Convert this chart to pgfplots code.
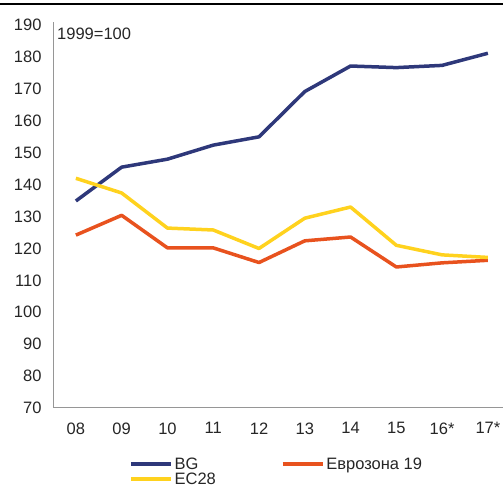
\documentclass[border=0pt]{standalone}
\usepackage{pgfplots}
\pgfplotsset{compat=1.18}
\usepackage{fontspec}
\setmainfont{Liberation Sans}
\definecolor{bgblue}{RGB}{46,56,122}
\definecolor{ezorange}{RGB}{232,82,30}
\definecolor{ecyellow}{RGB}{255,210,30}
\definecolor{axgray}{RGB}{150,150,150}
\begin{document}
\begin{tikzpicture}[x=1pt,y=1pt]
\useasboundingbox (0,0) rectangle (503,489);
\clip (0,0) rectangle (503,489);
\draw[black, line width=1.5pt] (0,485) -- (503,485);
\begin{axis}[
  at={(53pt,81pt)}, anchor=south west,
  scale only axis, width=450pt, height=386pt,
  xmin=-0.5, xmax=9.33, ymin=70, ymax=191,
  axis x line*=bottom, axis y line*=left,
  axis line style={axgray, line width=1pt, -},
  tick style={draw=none},
  xtick={0,...,9},
  xticklabels={08,09,10,11,12,13,14,15,16*,17*},
  ytick={70,80,...,190},
  /pgf/number format/assume math mode=true,
  ticklabel style={font=\fontsize{16.5}{19}\selectfont, text=black!85},
  yticklabel style={anchor=east, xshift=-8pt},
  xticklabel style={anchor=north, yshift=-11pt},
  legend columns=2,
  legend cell align=left,
  legend style={draw=none, fill=none, at={(0.162,-0.12)}, anchor=north west,
    font=\fontsize{16.5}{19}\selectfont, text=black!85,
    nodes={inner xsep=2pt, inner ysep=1pt},
    /tikz/every even column/.append style={column sep=63pt},
    row sep=0pt},
  legend image code/.code={\draw[#1, line width=3.5pt] (0,0) -- (40pt,0);},
  every axis plot/.append style={line width=3.5pt, line join=round},
]
\addplot[bgblue] coordinates {(0,134.9) (1,145.5) (2,148.0) (3,152.4) (4,155.0) (5,169.2) (6,177.2) (7,176.7) (8,177.4) (9,181.2)};
\addlegendentry{BG}
\addplot[ezorange] coordinates {(0,124.2) (1,130.4) (2,120.2) (3,120.2) (4,115.6) (5,122.4) (6,123.6) (7,114.2) (8,115.5) (9,116.3)};
\addlegendentry{Еврозона 19}
\addplot[ecyellow] coordinates {(0,142.0) (1,137.4) (2,126.4) (3,125.8) (4,120.0) (5,129.5) (6,133.0) (7,121.0) (8,118.0) (9,117.2)};
\addlegendentry{ЕС28}
\end{axis}
\node[anchor=west, font=\fontsize{16.5}{19}\selectfont, text=black!85, inner sep=0pt] at (57,455) {1999=100};
\end{tikzpicture}
\end{document}
